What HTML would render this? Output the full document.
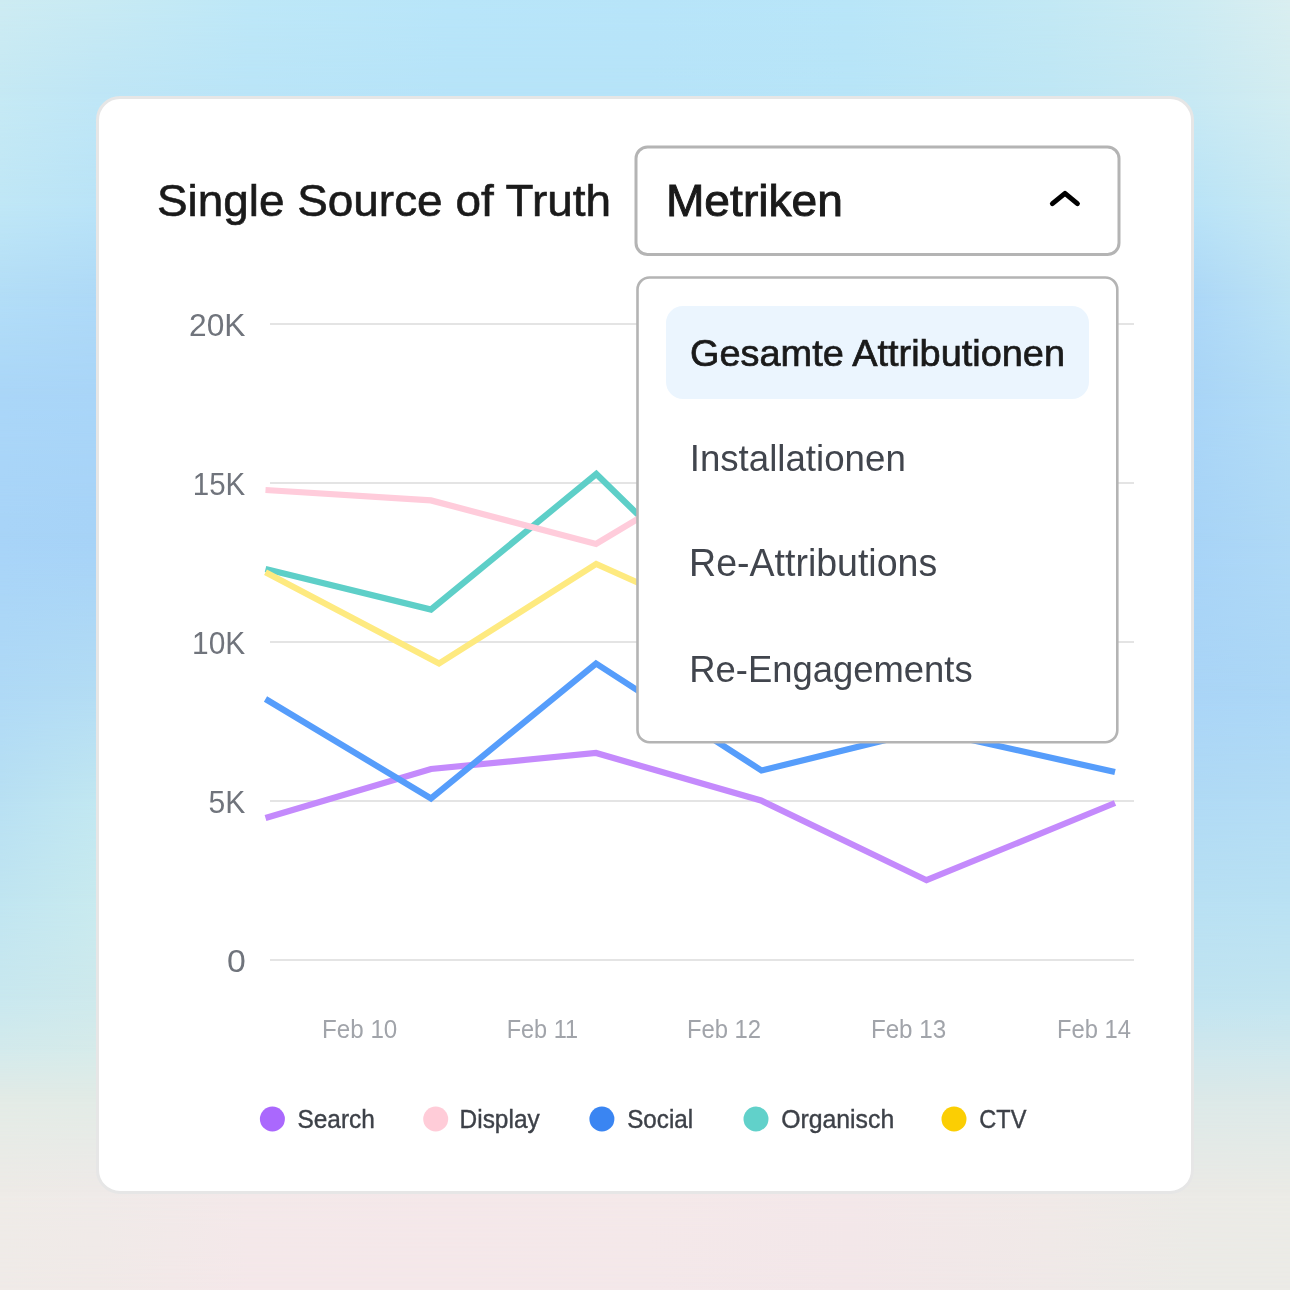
<!DOCTYPE html>
<html lang="de">
<head>
<meta charset="utf-8">
<title>Single Source of Truth</title>
<style>
html,body{margin:0;padding:0;}
body{width:1290px;height:1290px;position:relative;overflow:hidden;font-family:"Liberation Sans",Arial,sans-serif;}
.abs{position:absolute;}
.band{position:absolute;left:0;width:1290px;}.band>i{position:absolute;left:0;top:0;width:100%;height:100%;-webkit-mask-image:linear-gradient(to bottom,#000,transparent);mask-image:linear-gradient(to bottom,#000,transparent);}
#b0{top:0px;height:96px;background:linear-gradient(to right,#c5e9f4 0px,#bfe6f6 96px,#bae5f8 250px,#b7e4f9 450px,#b7e4f9 645px,#b8e5f8 850px,#bfe7f5 1050px,#c8e9f3 1194px,#d3edf1 1290px);}
#b0>i{background:linear-gradient(to right,#cdebf2 0px,#c8eaf3 96px,#bde7f7 250px,#b8e5f9 450px,#b7e4f9 645px,#b8e5f8 850px,#c2e8f4 1050px,#cdebf2 1194px,#d9eef0 1290px);}
#b1{top:96px;height:104px;background:linear-gradient(to right,#c0e7f6 0px,#bae4f7 96px,#bae4f7 250px,#bae4f7 450px,#bae4f7 645px,#bae4f7 850px,#bae4f7 1050px,#bae4f7 1194px,#c8e9f3 1290px);}
#b1>i{background:linear-gradient(to right,#c5e9f4 0px,#bfe6f6 96px,#bae5f8 250px,#b7e4f9 450px,#b7e4f9 645px,#b8e5f8 850px,#bfe7f5 1050px,#c8e9f3 1194px,#d3edf1 1290px);}
#b2{top:200px;height:100px;background:linear-gradient(to right,#b2ddf7 0px,#aed9f7 96px,#aed9f7 250px,#add8f7 450px,#add8f7 645px,#add8f7 850px,#acd7f7 1050px,#acd7f7 1194px,#bce3f5 1290px);}
#b2>i{background:linear-gradient(to right,#c0e7f6 0px,#bae4f7 96px,#bae4f7 250px,#bae4f7 450px,#bae4f7 645px,#bae4f7 850px,#bae4f7 1050px,#bae4f7 1194px,#c8e9f3 1290px);}
#b3{top:300px;height:100px;background:linear-gradient(to right,#aad6f8 0px,#a9d5f8 96px,#a9d5f8 250px,#a9d5f8 450px,#a9d5f8 645px,#a9d5f7 850px,#a9d5f7 1050px,#a9d5f7 1194px,#b3ddf6 1290px);}
#b3>i{background:linear-gradient(to right,#b2ddf7 0px,#aed9f7 96px,#aed9f7 250px,#add8f7 450px,#add8f7 645px,#add8f7 850px,#acd7f7 1050px,#acd7f7 1194px,#bce3f5 1290px);}
#b4{top:400px;height:150px;background:linear-gradient(to right,#a8d4f8 0px,#a7d3f7 96px,#a7d3f7 250px,#a7d3f7 450px,#a8d4f7 645px,#a8d4f7 850px,#a8d4f7 1050px,#a8d4f7 1194px,#afd9f6 1290px);}
#b4>i{background:linear-gradient(to right,#aad6f8 0px,#a9d5f8 96px,#a9d5f8 250px,#a9d5f8 450px,#a9d5f8 645px,#a9d5f7 850px,#a9d5f7 1050px,#a9d5f7 1194px,#b3ddf6 1290px);}
#b5{top:550px;height:150px;background:linear-gradient(to right,#b0daf6 0px,#b4ddf4 96px,#b3dcf4 250px,#b1daf5 450px,#afd9f6 645px,#add8f6 850px,#abd6f7 1050px,#aad5f7 1194px,#acd7f6 1290px);}
#b5>i{background:linear-gradient(to right,#a8d4f8 0px,#a7d3f7 96px,#a7d3f7 250px,#a7d3f7 450px,#a8d4f7 645px,#a8d4f7 850px,#a8d4f7 1050px,#a8d4f7 1194px,#afd9f6 1290px);}
#b6{top:700px;height:100px;background:linear-gradient(to right,#b8e0f3 0px,#c1e7f1 96px,#bfe5f2 250px,#bce3f2 450px,#b8e0f3 645px,#b5def4 850px,#b2dcf4 1050px,#b0daf5 1194px,#b3dcf5 1290px);}
#b6>i{background:linear-gradient(to right,#b0daf6 0px,#b4ddf4 96px,#b3dcf4 250px,#b1daf5 450px,#afd9f6 645px,#add8f6 850px,#abd6f7 1050px,#aad5f7 1194px,#acd7f6 1290px);}
#b7{top:800px;height:100px;background:linear-gradient(to right,#c0e5f1 0px,#c8eaef 96px,#c6e9f0 250px,#c3e7f0 450px,#c0e5f1 645px,#bde3f2 850px,#bae1f2 1050px,#b8e0f3 1194px,#b9e1f3 1290px);}
#b7>i{background:linear-gradient(to right,#b8e0f3 0px,#c1e7f1 96px,#bfe5f2 250px,#bce3f2 450px,#b8e0f3 645px,#b5def4 850px,#b2dcf4 1050px,#b0daf5 1194px,#b3dcf5 1290px);}
#b8{top:900px;height:100px;background:linear-gradient(to right,#c9e8ef 0px,#cee9ec 96px,#cce8ed 250px,#cae7ee 450px,#c8e6ee 645px,#c5e6ef 850px,#c3e5f0 1050px,#c1e4f1 1194px,#c3e5f0 1290px);}
#b8>i{background:linear-gradient(to right,#c0e5f1 0px,#c8eaef 96px,#c6e9f0 250px,#c3e7f0 450px,#c0e5f1 645px,#bde3f2 850px,#bae1f2 1050px,#b8e0f3 1194px,#b9e1f3 1290px);}
#b9{top:1000px;height:50px;background:linear-gradient(to right,#d3eaec 0px,#d6ebea 96px,#d5eaea 250px,#d4eaeb 450px,#d2e9ec 645px,#d1e8ec 850px,#d0e8ed 1050px,#cfe7ed 1194px,#d0e8ed 1290px);}
#b9>i{background:linear-gradient(to right,#c9e8ef 0px,#cee9ec 96px,#cce8ed 250px,#cae7ee 450px,#c8e6ee 645px,#c5e6ef 850px,#c3e5f0 1050px,#c1e4f1 1194px,#c3e5f0 1290px);}
#b10{top:1050px;height:50px;background:linear-gradient(to right,#e3ebe6 0px,#e2ebe6 96px,#e1ebe6 250px,#e0eae7 450px,#dfeae7 645px,#deeae7 850px,#dde9e8 1050px,#dce9e8 1194px,#dde9e8 1290px);}
#b10>i{background:linear-gradient(to right,#d3eaec 0px,#d6ebea 96px,#d5eaea 250px,#d4eaeb 450px,#d2e9ec 645px,#d1e8ec 850px,#d0e8ed 1050px,#cfe7ed 1194px,#d0e8ed 1290px);}
#b11{top:1100px;height:94px;background:linear-gradient(to right,#eeebe7 0px,#efeae8 96px,#f3e8e9 250px,#f4e7e9 450px,#f4e8e9 645px,#f3e7e9 850px,#f0e9e7 1050px,#ebeae6 1194px,#ebebe6 1290px);}
#b11>i{background:linear-gradient(to right,#e3ebe6 0px,#e2ebe6 96px,#e1ebe6 250px,#e0eae7 450px,#dfeae7 645px,#deeae7 850px,#dde9e8 1050px,#dce9e8 1194px,#dde9e8 1290px);}
#b12{top:1194px;height:96px;background:linear-gradient(to right,#f0ebe8 0px,#f1eae8 96px,#f5e8ea 250px,#f5e8ea 450px,#f4e8ea 645px,#f3e7e9 850px,#f0e9e8 1050px,#ecebe7 1194px,#ecebe7 1290px);}
#b12>i{background:linear-gradient(to right,#eeebe7 0px,#efeae8 96px,#f3e8e9 250px,#f4e7e9 450px,#f4e8e9 645px,#f3e7e9 850px,#f0e9e7 1050px,#ebeae6 1194px,#ebebe6 1290px);}
svg{position:absolute;left:0;top:0;}
text{font-family:"Liberation Sans",Arial,sans-serif;}
</style>
</head>
<body>
<div id="b0" class="band"><i></i></div>
<div id="b1" class="band"><i></i></div>
<div id="b2" class="band"><i></i></div>
<div id="b3" class="band"><i></i></div>
<div id="b4" class="band"><i></i></div>
<div id="b5" class="band"><i></i></div>
<div id="b6" class="band"><i></i></div>
<div id="b7" class="band"><i></i></div>
<div id="b8" class="band"><i></i></div>
<div id="b9" class="band"><i></i></div>
<div id="b10" class="band"><i></i></div>
<div id="b11" class="band"><i></i></div>
<div id="b12" class="band"><i></i></div>
<svg width="1290" height="1290" viewBox="0 0 1290 1290">
  <rect x="97.5" y="97.5" width="1095" height="1095" rx="22.5" fill="#fff" stroke="#e6e6e6" stroke-width="3"/>
  <g stroke="#e4e4e4" stroke-width="2">
    <line x1="270" y1="324" x2="1134" y2="324"/>
    <line x1="270" y1="483" x2="1134" y2="483"/>
    <line x1="270" y1="642" x2="1134" y2="642"/>
    <line x1="270" y1="801" x2="1134" y2="801"/>
    <line x1="270" y1="960" x2="1134" y2="960"/>
  </g>
  <text x="189.0" y="336.0" font-size="31.88" textLength="56.4" lengthAdjust="spacingAndGlyphs" fill="#70747c">20K</text>
  <text x="192.8" y="495.3" font-size="31.88" textLength="52.5" lengthAdjust="spacingAndGlyphs" fill="#70747c">15K</text>
  <text x="192.1" y="653.8" font-size="31.88" textLength="53.2" lengthAdjust="spacingAndGlyphs" fill="#70747c">10K</text>
  <text x="208.5" y="812.9" font-size="31.88" textLength="36.8" lengthAdjust="spacingAndGlyphs" fill="#70747c">5K</text>
  <text x="226.9" y="972.2" font-size="31.88" textLength="18.8" lengthAdjust="spacingAndGlyphs" fill="#70747c">0</text>
  <g fill="none" stroke-width="6.2" stroke-linejoin="miter">
    <polyline stroke="#c48afc" points="265.5,818 431,769 596,753 761,800.5 926.5,880.2 1115,803"/>
    <polyline stroke="#569dfb" points="265.5,699 431,798.5 596,663.5 761.5,770.5 926.5,730 1115,772"/>
    <polyline stroke="#5ecfc8" points="265.5,569 431,609.5 596.3,474 700,575"/>
    <polyline stroke="#ffccdb" points="265.5,490 431,500.4 596,544 700,481.6"/>
    <polyline stroke="#feea80" points="265.5,572.3 439,663.5 596.2,564 700,610.5"/>
  </g>
  <text x="322.1" y="1037.8" font-size="25.07" textLength="75.2" lengthAdjust="spacingAndGlyphs" fill="#a1a4aa">Feb 10</text>
  <text x="506.7" y="1037.8" font-size="25.07" textLength="71.4" lengthAdjust="spacingAndGlyphs" fill="#a1a4aa">Feb 11</text>
  <text x="686.9" y="1037.8" font-size="25.07" textLength="74.2" lengthAdjust="spacingAndGlyphs" fill="#a1a4aa">Feb 12</text>
  <text x="870.9" y="1037.8" font-size="25.07" textLength="75.3" lengthAdjust="spacingAndGlyphs" fill="#a1a4aa">Feb 13</text>
  <text x="1056.9" y="1037.8" font-size="25.07" textLength="74.0" lengthAdjust="spacingAndGlyphs" fill="#a1a4aa">Feb 14</text>
  <circle cx="272.4" cy="1119" r="12.5" fill="#aa68fd"/>
  <circle cx="435.7" cy="1119" r="12.5" fill="#ffccd8"/>
  <circle cx="601.9" cy="1119" r="12.5" fill="#3a85f2"/>
  <circle cx="756" cy="1119" r="12.5" fill="#61d1ca"/>
  <circle cx="954" cy="1119" r="12.5" fill="#fbce03"/>
  <text x="297.5" y="1128.1" font-size="26.09" textLength="77.3" lengthAdjust="spacingAndGlyphs" fill="#3d4148" stroke="#3d4148" stroke-width="0.4">Search</text>
  <text x="459.6" y="1128.1" font-size="26.09" textLength="80.1" lengthAdjust="spacingAndGlyphs" fill="#3d4148" stroke="#3d4148" stroke-width="0.4">Display</text>
  <text x="627.2" y="1128.1" font-size="26.09" textLength="65.9" lengthAdjust="spacingAndGlyphs" fill="#3d4148" stroke="#3d4148" stroke-width="0.4">Social</text>
  <text x="781.2" y="1128.1" font-size="26.09" textLength="113.0" lengthAdjust="spacingAndGlyphs" fill="#3d4148" stroke="#3d4148" stroke-width="0.4">Organisch</text>
  <text x="979.2" y="1128.1" font-size="26.09" textLength="47.2" lengthAdjust="spacingAndGlyphs" fill="#3d4148" stroke="#3d4148" stroke-width="0.4">CTV</text>
  <text x="156.9" y="215.7" font-size="43.77" textLength="454.1" lengthAdjust="spacingAndGlyphs" fill="#1a1a1a" stroke="#1a1a1a" stroke-width="0.6">Single Source of Truth</text>
  <rect x="636" y="147" width="483" height="107.5" rx="11.5" fill="#fff" stroke="#b4b4b4" stroke-width="3"/>
  <text x="665.9" y="216.0" font-size="44.20" textLength="177.1" lengthAdjust="spacingAndGlyphs" fill="#1a1a1a" stroke="#1a1a1a" stroke-width="0.9">Metriken</text>
  <path d="M1052.4 203.6 L1065 193.4 L1077.4 203.6" fill="none" stroke="#000" stroke-width="5" stroke-linecap="round" stroke-linejoin="round"/>
  <rect x="637.5" y="277.5" width="479.8" height="464.7" rx="12" fill="#fff" stroke="#b4b4b4" stroke-width="2.6"/>
  <rect x="666" y="306" width="423" height="93" rx="17" fill="#ebf5fe"/>
  <text x="690.0" y="365.6" font-size="37.68" textLength="375.0" lengthAdjust="spacingAndGlyphs" fill="#1a1a1a" stroke="#1a1a1a" stroke-width="0.7">Gesamte Attributionen</text>
  <text x="689.7" y="470.6" font-size="37.25" textLength="216.1" lengthAdjust="spacingAndGlyphs" fill="#41454d">Installationen</text>
  <text x="689.1" y="576.4" font-size="37.97" textLength="248.1" lengthAdjust="spacingAndGlyphs" fill="#41454d">Re-Attributions</text>
  <text x="689.2" y="681.5" font-size="37.68" textLength="283.5" lengthAdjust="spacingAndGlyphs" fill="#41454d">Re-Engagements</text>
</svg>
</body>
</html>
